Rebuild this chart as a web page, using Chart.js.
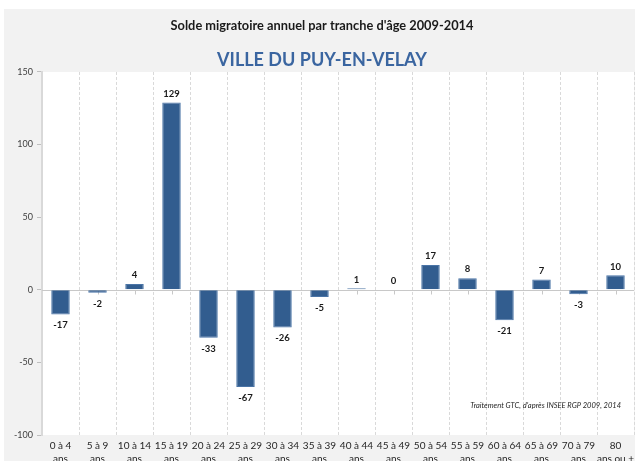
<!DOCTYPE html>
<html lang="fr">
<head>
    <meta charset="UTF-8">
    <title>Solde migratoire annuel par tranche d'âge 2009-2014</title>
    <script src="https://cdn.jsdelivr.net/npm/chart.js"></script>
    <style>
        html, body {
            margin: 0;
            padding: 0;
            background: #ffffff;
            overflow: hidden;
        }

        .chart-box {
            position: relative;
            width: 635px;
            height: 469px;
        }
    </style>
</head>
<body>
    <div class="chart-box">
        <canvas id="soldeChart"></canvas>
    </div>

    <script>
        // Data
        const ageGroups = [
            ['0 à 4', 'ans'], ['5 à 9', 'ans'], ['10 à 14', 'ans'], ['15 à 19', 'ans'],
            ['20 à 24', 'ans'], ['25 à 29', 'ans'], ['30 à 34', 'ans'], ['35 à 39', 'ans'],
            ['40 à 44', 'ans'], ['45 à 49', 'ans'], ['50 à 54', 'ans'], ['55 à 59', 'ans'],
            ['60 à 64', 'ans'], ['65 à 69', 'ans'], ['70 à 79', 'ans'], ['80', 'ans ou +']
        ];
        const soldeValues = [-17, -2, 4, 129, -33, -67, -26, -5, 1, 0, 17, 8, -21, 7, -3, 10];
        const yTicks = [-100, -50, 0, 50, 100, 150];

        const sourceNote = "Traitement GTC, d'après INSEE RGP 2009, 2014";

        // grey panel behind everything, white plot area
        const backgroundPlugin = {
            id: 'panel',
            beforeDraw(chart) {
                const { ctx, chartArea } = chart;
                ctx.save();
                ctx.fillStyle = '#ffffff';
                ctx.fillRect(0, 0, chart.width, chart.height);
                ctx.fillStyle = '#f2f2f2';
                ctx.fillRect(4, 9, chart.width - 4, chart.height - 9);
                ctx.fillStyle = '#ffffff';
                ctx.fillRect(chartArea.left, chartArea.top, chartArea.right - chartArea.left, chartArea.bottom - chartArea.top);
                ctx.restore();
            }
        };

        // zero line under the bars, value labels and source note on top
        const labelsPlugin = {
            id: 'valueLabels',
            beforeDatasetsDraw(chart) {
                const { ctx, chartArea, scales } = chart;
                const y0 = Math.round(scales.y.getPixelForValue(0)) + 0.5;
                ctx.save();
                ctx.strokeStyle = '#c8c8c8';
                ctx.lineWidth = 1;
                ctx.beginPath();
                ctx.moveTo(chartArea.left, y0);
                ctx.lineTo(chartArea.right, y0);
                chart.getDatasetMeta(0).data.forEach(bar => {
                    ctx.moveTo(Math.round(bar.x) + 0.5, y0);
                    ctx.lineTo(Math.round(bar.x) + 0.5, y0 + 4);
                });
                ctx.stroke();
                ctx.restore();
            },
            afterDatasetsDraw(chart) {
                const { ctx, scales } = chart;
                const y0 = scales.y.getPixelForValue(0);

                ctx.save();
                ctx.fillStyle = '#1a1a1a';
                ctx.font = 'bold 9.5px Lato, "Open Sans", sans-serif';
                ctx.textAlign = 'center';
                chart.getDatasetMeta(0).data.forEach((bar, i) => {
                    const v = soldeValues[i];
                    if (v >= 0) {
                        ctx.textBaseline = 'bottom';
                        ctx.fillText(String(v), bar.x, Math.min(bar.y, y0) - 4);
                    } else {
                        ctx.textBaseline = 'top';
                        ctx.fillText(String(v), bar.x, bar.y + 6);
                    }
                });

                ctx.font = 'italic 7.5px Lato, "Open Sans", sans-serif';
                ctx.fillStyle = '#262626';
                ctx.textAlign = 'right';
                ctx.textBaseline = 'middle';
                ctx.fillText(sourceNote, 621, 406);
                ctx.restore();
            }
        };

        const soldeChart = new Chart(document.getElementById('soldeChart').getContext('2d'), {
            type: 'bar',
            data: {
                labels: ageGroups,
                datasets: [{
                    label: 'Solde migratoire',
                    data: soldeValues,
                    backgroundColor: '#325d8f',
                    borderColor: '#4a74a6',
                    borderWidth: 1,
                    barPercentage: 0.5,
                    categoryPercentage: 1
                }]
            },
            options: {
                responsive: true,
                maintainAspectRatio: false,
                animation: false,
                layout: {
                    padding: { left: 10, right: 1, top: 0, bottom: 0 }
                },
                plugins: {
                    legend: { display: false },
                    tooltip: { enabled: false },
                    title: {
                        display: true,
                        text: "Solde migratoire annuel par tranche d'âge 2009-2014",
                        color: '#1a1a1a',
                        font: { family: 'Lato, "Open Sans", sans-serif', size: 12.8, weight: 'bold' },
                        padding: { top: 18, bottom: 0 }
                    },
                    subtitle: {
                        display: true,
                        text: 'VILLE DU PUY-EN-VELAY',
                        color: '#3a65a0',
                        font: { family: 'Lato, "Open Sans", sans-serif', size: 18, weight: 'bold' },
                        padding: { top: 16, bottom: 1 }
                    }
                },
                scales: {
                    x: {
                        afterFit: axis => {
                            axis.paddingLeft = 0;
                            axis.paddingRight = 0;
                        },
                        grid: {
                            display: true,
                            offset: true,
                            color: '#d9d9d9',
                            drawTicks: false
                        },
                        border: { display: false, dash: [3, 2] },
                        ticks: {
                            color: '#262626',
                            font: { family: 'Lato, "Open Sans", sans-serif', size: 10, lineHeight: 1.3 },
                            maxRotation: 0,
                            autoSkip: false,
                            padding: 4
                        }
                    },
                    y: {
                        min: -100,
                        max: 150,
                        afterBuildTicks: axis => {
                            axis.ticks = yTicks.map(v => ({ value: v }));
                        },
                        grid: {
                            drawOnChartArea: false,
                            color: '#bfbfbf',
                            tickLength: 5
                        },
                        border: { display: true, color: '#d9d9d9', width: 2 },
                        ticks: {
                            color: '#404040',
                            font: { family: 'Lato, "Open Sans", sans-serif', size: 9 },
                            padding: 4
                        }
                    }
                }
            },
            plugins: [backgroundPlugin, labelsPlugin]
        });
    </script>
</body>
</html>
